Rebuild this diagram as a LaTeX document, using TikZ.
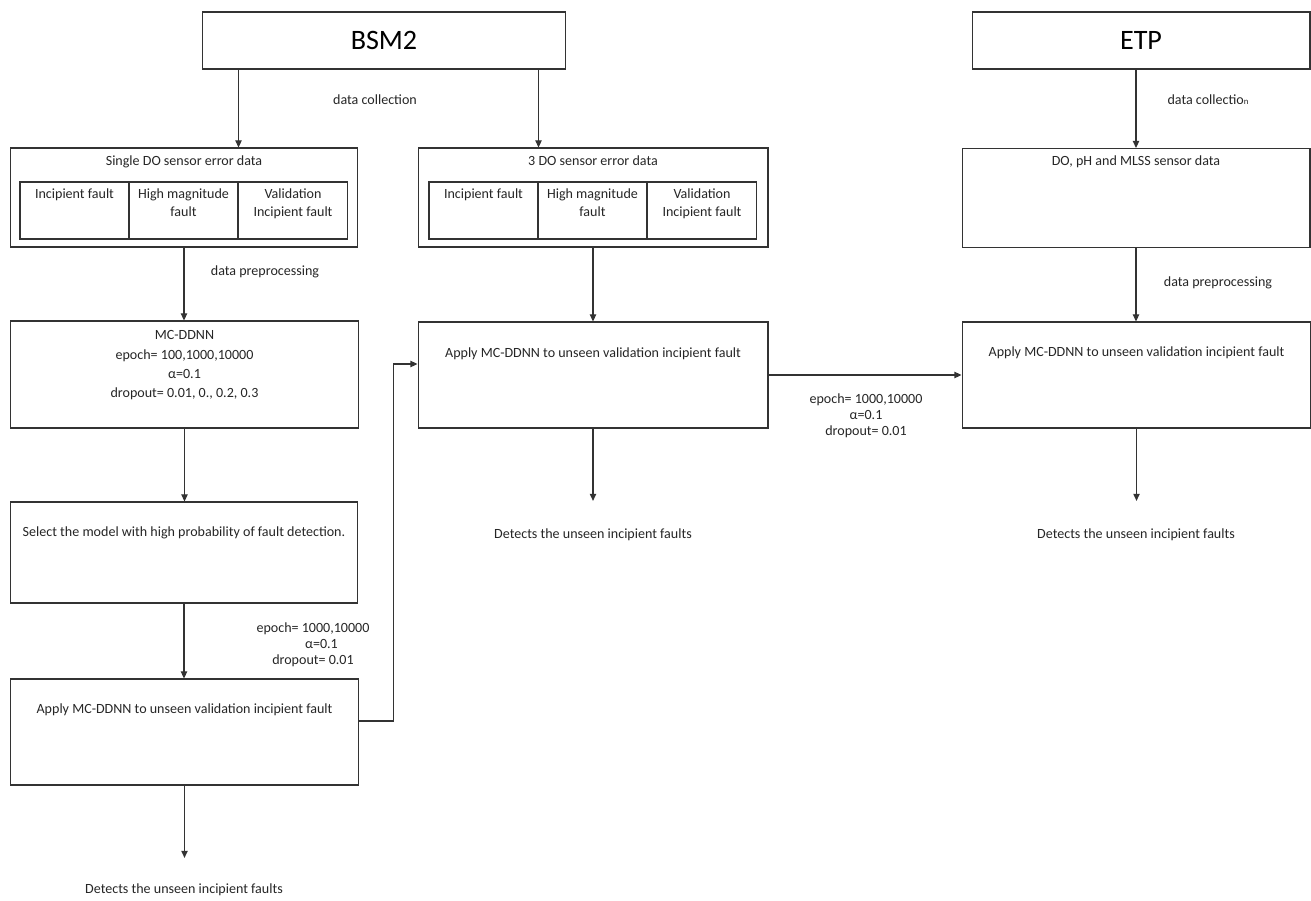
\documentclass[tikz,border=0pt]{standalone}
\usepackage{fontspec}
\setmainfont{Carlito}
\usetikzlibrary{arrows.meta,positioning,calc}

\begin{document}
\begin{tikzpicture}[x=0.02cm,y=-0.02cm,font=\fontsize{8}{11}\selectfont,
  box/.style={draw=black!80,line width=0.6pt,minimum width=6.96cm,minimum height=2.12cm,inner sep=0pt},
  cell/.style={draw=black!80,line width=0.6pt,minimum width=2.18cm,minimum height=1.14cm,inner sep=0pt},
  txt/.style={align=center,inner sep=1pt,text=black!85},
  par/.style={txt,font=\fontsize{8}{9.2}\selectfont},
  big/.style={font=\fontsize{16}{18}\selectfont},
  m/.style={-{Triangle[length=4pt,width=3.6pt]},line width=0.6pt,draw=black!80}]
  \useasboundingbox (0,0) rectangle (1311,900);

  % plants
  \node[box,big,minimum width=7.28cm,minimum height=1.14cm] (bsm) at (384,40.5) {BSM2};
  \node[box,big,minimum width=6.76cm,minimum height=1.14cm] (etp) at (1141,40.5) {ETP};

  % sensor data
  \node[box,minimum height=1.98cm] (single) at (184,197.5) {};
  \node[txt,below=0.12cm of single.north] (singlet) {Single DO sensor error data};
  \node[box,minimum width=7cm,minimum height=1.98cm] (three) at (593,197.5) {};
  \node[txt,below=0.12cm of three.north] (threet) {3 DO sensor error data};
  \node[box,minimum height=1.98cm] (etpdata) at (1136,198) {};
  \node[txt,below=0.12cm of etpdata.north] (etpdatat) {DO, pH and MLSS sensor data};
  \foreach \b/\x in {sg/0,tr/409} {
    \foreach \c/\dx/\t in {a/74.5/{Incipient fault},b/183.5/{High magnitude\\fault},c/293/{Validation\\Incipient fault}} {
      \node[cell] (\b\c) at (\x+\dx,210.5) {};
      \node[txt,font=\fontsize{8}{10.2}\selectfont,below=0.1cm of \b\c.north] (\b\c t) {\t};
    }
  }

  % BSM2 chain
  \node[box,minimum width=6.98cm,minimum height=2.14cm] (mc) at (184.5,374.5) {};
  \node[txt,below=0.16cm of mc.north] (mct) {MC-DDNN\\epoch= 100,1000,10000\\α=0.1\\dropout= 0.01, 0., 0.2, 0.3};
  \node[box,minimum height=2.02cm] (select) at (184,552.5) {};
  \node[txt,below=0.46cm of select.north] (selectt) {Select the model with high probability of fault detection.};
  \node[box,minimum width=6.98cm] (apply1) at (184.5,732) {};
  \node[txt,below=0.46cm of apply1.north] (apply1t) {Apply MC-DDNN to unseen validation incipient fault};
  \node[txt] (det1) at (184,890) {Detects the unseen incipient faults};

  \node[box,minimum width=7cm] (apply2) at (593,375) {};
  \node[txt,below=0.48cm of apply2.north] (apply2t) {Apply MC-DDNN to unseen validation incipient fault};
  \node[txt] (det2) at (593,535) {Detects the unseen incipient faults};

  % ETP chain
  \node[box,minimum width=6.98cm] (apply3) at (1136.5,375) {};
  \node[txt,below=0.46cm of apply3.north] (apply3t) {Apply MC-DDNN to unseen validation incipient fault};
  \node[txt] (det3) at (1136,535) {Detects the unseen incipient faults};

  % labels
  \node[txt] (coll1) at (375,100) {data collection};
  \node[txt] (coll2) at (1208,100) {data collectio{\fontsize{5}{6}\selectfont n}};
  \node[txt] (prep1) at (265,272) {data preprocessing};
  \node[txt] (prep2) at (1218,283) {data preprocessing};
  \node[par] (par1) at (313,645) {epoch= 1000,10000\\\hspace*{1.2em}α=0.1\\dropout= 0.01};
  \node[par] (par2) at (866,416) {epoch= 1000,10000\\α=0.1\\dropout= 0.01};

  % arrows
  \draw[m] (bsm.south -| sgb.east) -- (single.north -| sgb.east);
  \draw[m] (bsm.south -| tra.east) -- (three.north -| tra.east);
  \draw[m] (etp.south -| etpdata.north) -- (etpdata.north);
  \draw[m] (single.south) -- (single.south |- mc.north);
  \draw[m] (mc.south) -- (mc.south |- select.north);
  \draw[m] (select.south) -- (select.south |- apply1.north);
  \draw[m,shorten >=0.48cm] (apply1.south) -- (apply1.south |- det1.north);
  \draw[m] ([yshift=0.22cm]apply1.east) -- ++(34,0) |- ([yshift=0.22cm]apply2.west);
  \draw[m] (three.south) -- (apply2.north);
  \draw[m,shorten >=0.52cm] (apply2.south) -- (det2.north);
  \draw[m] (apply2.east) -- (apply3.west);
  \draw[m] (etpdata.south) -- (etpdata.south |- apply3.north);
  \draw[m,shorten >=0.52cm] (apply3.south) -- (apply3.south |- det3.north);
\end{tikzpicture}
\end{document}
